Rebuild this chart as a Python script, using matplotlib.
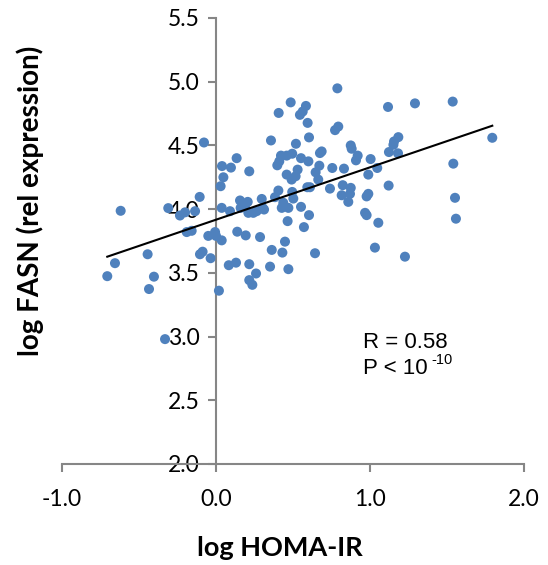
import numpy as np
import matplotlib
matplotlib.use("Agg")
import matplotlib.pyplot as plt

# log HOMA-IR vs log FASN
homa = [
    -0.078, -0.106, -0.619, -0.310, -0.234, -0.201, -0.136, -0.190, -0.158, -0.050,
    -0.006, 0.000, -0.444, -0.656, -0.706, -0.403, -0.435, -0.104, -0.087, -0.035,
    0.019, -0.331, 0.039, 0.048, 0.030, 0.037, 0.091, 0.097, 0.037, 0.083,
    0.130, 0.134, 0.138, 0.193, 0.788, 0.485, 0.584, 0.563, 0.545, 0.407,
    0.595, 0.773, 0.794, 0.604, 0.357, 0.519, 0.875, 0.881, 0.216, 0.422,
    0.495, 0.459, 0.411, 0.398, 0.552, 0.600, 0.675, 0.686, 0.671, 0.647,
    0.530, 0.517, 0.459, 0.491, 0.664, 0.755, 0.831, 0.920, 0.909, 1.004,
    0.989, 1.047, 0.740, 0.823, 0.875, 0.816, 0.870, 0.859, 0.978, 0.989,
    0.968, 0.978, 1.054, 0.593, 0.610, 0.552, 0.604, 0.495, 0.502, 0.405,
    0.383, 0.437, 0.470, 0.427, 0.297, 0.303, 0.156, 0.206, 0.188, 0.160,
    0.210, 0.242, 0.264, 0.312, 0.465, 0.571, 0.286, 0.448, 0.362, 0.431,
    0.643, 1.032, 0.216, 0.351, 0.470, 0.260, 0.216, 0.236, 1.537, 1.292,
    1.117, 1.794, 1.184, 1.156, 1.152, 1.123, 1.182, 1.541, 1.121, 1.552,
    1.558, 1.227,
]
fasn = [
    4.523, 4.096, 3.987, 4.008, 3.950, 3.975, 3.984, 3.820, 3.830, 3.790,
    3.820, 3.790, 3.646, 3.576, 3.474, 3.470, 3.373, 3.646, 3.666, 3.615,
    3.360, 2.980, 4.338, 4.250, 4.180, 4.010, 3.984, 4.326, 3.755, 3.560,
    3.580, 4.400, 3.823, 3.794, 4.948, 4.838, 4.810, 4.766, 4.740, 4.755,
    4.677, 4.620, 4.648, 4.563, 4.539, 4.513, 4.500, 4.474, 4.297, 4.420,
    4.435, 4.420, 4.375, 4.344, 4.400, 4.375, 4.440, 4.453, 4.341, 4.289,
    4.310, 4.258, 4.271, 4.232, 4.232, 4.323, 4.318, 4.420, 4.383, 4.393,
    4.271, 4.323, 4.161, 4.188, 4.167, 4.109, 4.120, 4.057, 4.100, 4.120,
    3.971, 3.953, 3.893, 4.172, 4.172, 4.018, 3.953, 4.135, 4.083, 4.146,
    4.094, 4.050, 4.010, 4.010, 4.080, 4.010, 4.068, 4.057, 4.023, 4.010,
    3.971, 3.971, 3.984, 3.997, 3.906, 3.859, 3.781, 3.745, 3.680, 3.659,
    3.654, 3.698, 3.568, 3.549, 3.529, 3.495, 3.443, 3.406, 4.844, 4.830,
    4.802, 4.560, 4.565, 4.531, 4.505, 4.448, 4.438, 4.357, 4.185, 4.089,
    3.925, 3.627,
]
x_ticks = [-1.0, 0.0, 1.0, 2.0]
y_ticks = [2.0, 2.5, 3.0, 3.5, 4.0, 4.5, 5.0, 5.5]

x = np.array(homa)
y = np.array(fasn)

fig = plt.figure(figsize=(5.48, 5.65), dpi=100)
ax = fig.add_axes([62 / 548, 1 - 464 / 565, 462 / 548, 446 / 565])

# axes cross at x=0 / y=2 like the Excel original (set before tick styling,
# moving a spine resets the ticks)
grey = "#868686"
ax.spines["left"].set_position(("data", 0))
ax.spines["bottom"].set_position(("data", 2.0))
ax.spines["top"].set_visible(False)
ax.spines["right"].set_visible(False)
for s in ("left", "bottom"):
    ax.spines[s].set_color(grey)
    ax.spines[s].set_linewidth(1.5)

ax.scatter(x, y, s=52, color="#4F81BD", edgecolors="none", zorder=3)

# linear trendline over the data range
slope, intercept = np.polyfit(x, y, 1)
xl = np.array([x.min(), x.max()])
ax.plot(xl, slope * xl + intercept, color="black", lw=1.5, zorder=4)

ax.set_xlim(-1.0, 2.0)
ax.set_ylim(2.0, 5.5)
ax.set_xticks(x_ticks)
ax.set_yticks(y_ticks)
ax.set_xticklabels([f"{v:.1f}" for v in x_ticks])
ax.set_yticklabels([f"{v:.1f}" for v in y_ticks])
ax.tick_params(direction="out", length=6, width=1.5, color=grey, pad=6,
               labelsize=16.5, labelfontfamily="Lato")
ax.tick_params(axis="x", pad=12)
ax.patch.set_visible(False)

fig.text(280 / 548, 1 - 548 / 565, "log HOMA-IR", ha="center", va="center",
         fontfamily="Lato", fontweight="bold", fontsize=19.5)
fig.text(30 / 548, 1 - 201 / 565, "log FASN (rel expression)", ha="center", va="center",
         rotation=90, fontfamily="Lato", fontweight="bold", fontsize=20)

ax.text(0.955, 2.914, "R = 0.58", fontfamily="Liberation Sans", fontsize=16, va="baseline")
t = ax.text(0.955, 2.703, "P < 10", fontfamily="Liberation Sans", fontsize=16, va="baseline")
ax.annotate("-10", xy=(1, 0.6), xycoords=t, xytext=(3, 0), textcoords="offset points",
            fontfamily="Liberation Sans", fontsize=10.5, va="bottom")

fig.savefig("out.png", dpi=100)
